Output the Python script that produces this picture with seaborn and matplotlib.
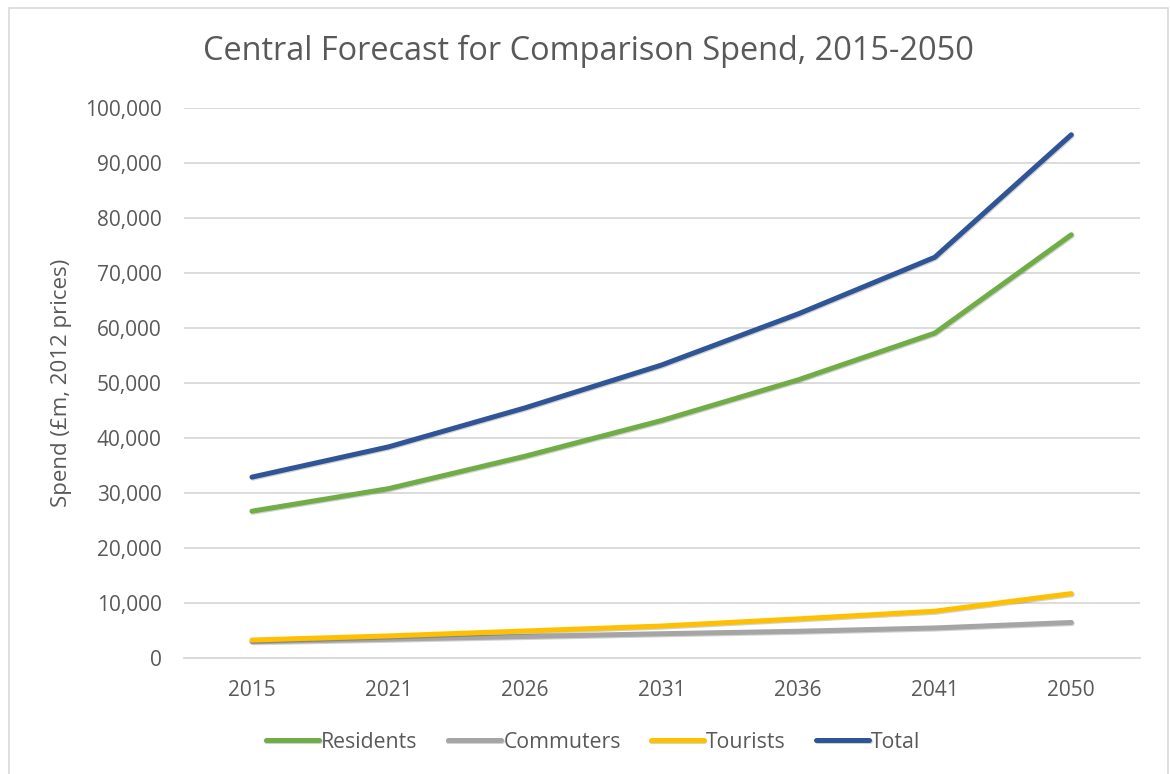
import matplotlib
matplotlib.use("Agg")
import matplotlib.pyplot as plt
import matplotlib.patheffects as pe
from matplotlib.patches import Rectangle
from matplotlib.ticker import FuncFormatter
import pandas as pd
import seaborn as sns

years = ["2015", "2021", "2026", "2031", "2036", "2041", "2050"]
residents = [26700, 30800, 36700, 43200, 50600, 59100, 77000]
commuters = [2950, 3400, 3900, 4400, 4850, 5450, 6450]
tourists = [3250, 4000, 4900, 5800, 7100, 8500, 11700]
total = [32900, 38400, 45500, 53300, 62600, 72900, 95200]

series_names = ["Residents", "Commuters", "Tourists", "Total"]
series_values = [residents, commuters, tourists, total]
palette = ["#70AD47", "#A5A5A5", "#FFC000", "#2F5597"]

df = pd.DataFrame(
    [(y, name, v) for name, vals in zip(series_names, series_values) for y, v in zip(years, vals)],
    columns=["Year", "Series", "Spend"],
)

sns.set_theme(style="white")
plt.rcParams["font.family"] = ["Open Sans", "DejaVu Sans"]
text_color = "#595959"

fig = plt.figure(figsize=(11.7, 7.74), dpi=100)
ax = fig.add_axes([0.157, 0.150, 0.817, 0.710])

sns.lineplot(
    data=df, x="Year", y="Spend", hue="Series", hue_order=series_names,
    palette=palette, linewidth=3.6, ax=ax, sort=False,
)
for line in ax.get_lines():
    line.set_solid_capstyle("round")
    line.set_solid_joinstyle("round")
    line.set_path_effects([
        pe.SimpleLineShadow(offset=(0.6, -0.8), shadow_color="#000000", alpha=0.18),
        pe.Normal(),
    ])

ax.set_xlim(-0.5, len(years) - 0.5)
ax.set_ylim(0, 100000)
ax.set_yticks(range(0, 100001, 10000))
ax.yaxis.set_major_formatter(FuncFormatter(lambda v, _: f"{int(v):,}"))
ax.grid(axis="y", color="#D9D9D9", linewidth=1.3)
ax.grid(axis="x", visible=False)
ax.set_axisbelow(True)
for s in ax.spines.values():
    s.set_visible(False)
ax.spines["bottom"].set_visible(True)
ax.spines["bottom"].set_color("#D9D9D9")
ax.spines["bottom"].set_linewidth(1.3)
ax.tick_params(axis="both", length=0, labelsize=15, colors=text_color)
ax.tick_params(axis="x", pad=16)
ax.tick_params(axis="y", pad=16)

ax.set_xlabel("")
ax.set_ylabel("Spend (£m, 2012 prices)", fontsize=16, color=text_color)
ax.yaxis.set_label_coords(-0.117, 0.5)

fig.text(0.503, 0.934, "Central Forecast for Comparison Spend, 2015-2050",
         ha="center", va="center", fontsize=23.4, color=text_color)

handles, labels = ax.get_legend_handles_labels()
ax.legend_.remove()
leg = fig.legend(
    handles, labels, loc="center", bbox_to_anchor=(0.507, 0.041), ncol=4,
    frameon=False, fontsize=15.3, handlelength=2.5, handletextpad=0.12,
    columnspacing=1.4,
)
for t in leg.get_texts():
    t.set_color(text_color)
for h in leg.get_lines():
    h.set_linewidth(3.6)
    h.set_solid_capstyle("round")

fig.patches.append(Rectangle((9 / 1170, -0.01), 1159 / 1170, 1 - 8 / 774 + 0.01,
                             transform=fig.transFigure, fill=False,
                             edgecolor="#D9D9D9", linewidth=1.2))

fig.savefig("out.png", dpi=100, facecolor="white")
